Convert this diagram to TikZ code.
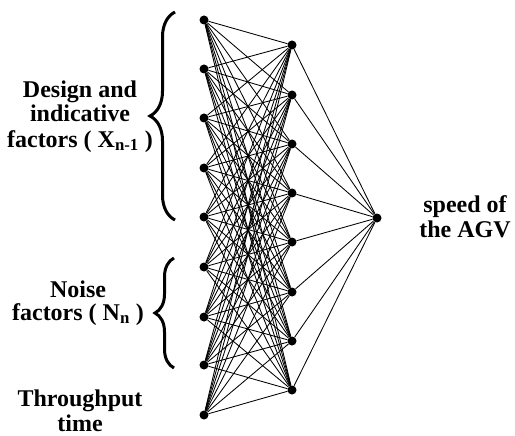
\documentclass[tikz,border=0pt]{standalone}
\usepackage{fontspec}
\setmainfont{Liberation Serif}
\usetikzlibrary{decorations.pathreplacing}
\begin{document}
\begin{tikzpicture}[x=1pt,y=-1pt,
  neuron/.style={circle,fill=black,inner sep=0pt,minimum size=9pt},
  link/.style={draw=black,line width=0.85pt},
  lbl/.style={font=\fontsize{24}{25}\selectfont\bfseries,align=center,inner sep=0pt,anchor=base},
  bracestyle/.style={line width=3pt,decorate,decoration={brace,amplitude=#1}}]
\useasboundingbox (0,0) rectangle (515,436);
% input layer
\foreach \i/\y in {1/20,2/69,3/118,4/168,5/217,6/267,7/317,8/365,9/415}
  \node[neuron] (i\i) at (204,\y) {};
% hidden layer
\foreach \j/\y in {1/45,2/95,3/144,4/193,5/242,6/292,7/341,8/390}
  \node[neuron] (h\j) at (292,\y) {};
% output
\node[neuron] (o) at (377,218) {};
% connections
\foreach \i in {1,...,9}
  \foreach \j in {1,...,8}
    \draw[link] (i\i) -- (h\j);
\foreach \j in {1,...,8}
  \draw[link] (h\j) -- (o);
% braces
\draw[bracestyle=25pt] (175,220) -- (175,12);
\draw[bracestyle=19pt] (174,368) -- (174,258);
% labels
\node[lbl] (design) at (80,147) {Design and\\indicative\\factors ( X\textsubscript{n-1} )};
\node[lbl,font=\fontsize{24}{23}\selectfont\bfseries] (noise) at (78,320) {Noise\\factors ( N\textsubscript{n} )};
\node[lbl] (thru) at (80,431) {Throughput\\time};
\node[lbl] (speed) at (465,237) {speed of\\the AGV};
\end{tikzpicture}
\end{document}
